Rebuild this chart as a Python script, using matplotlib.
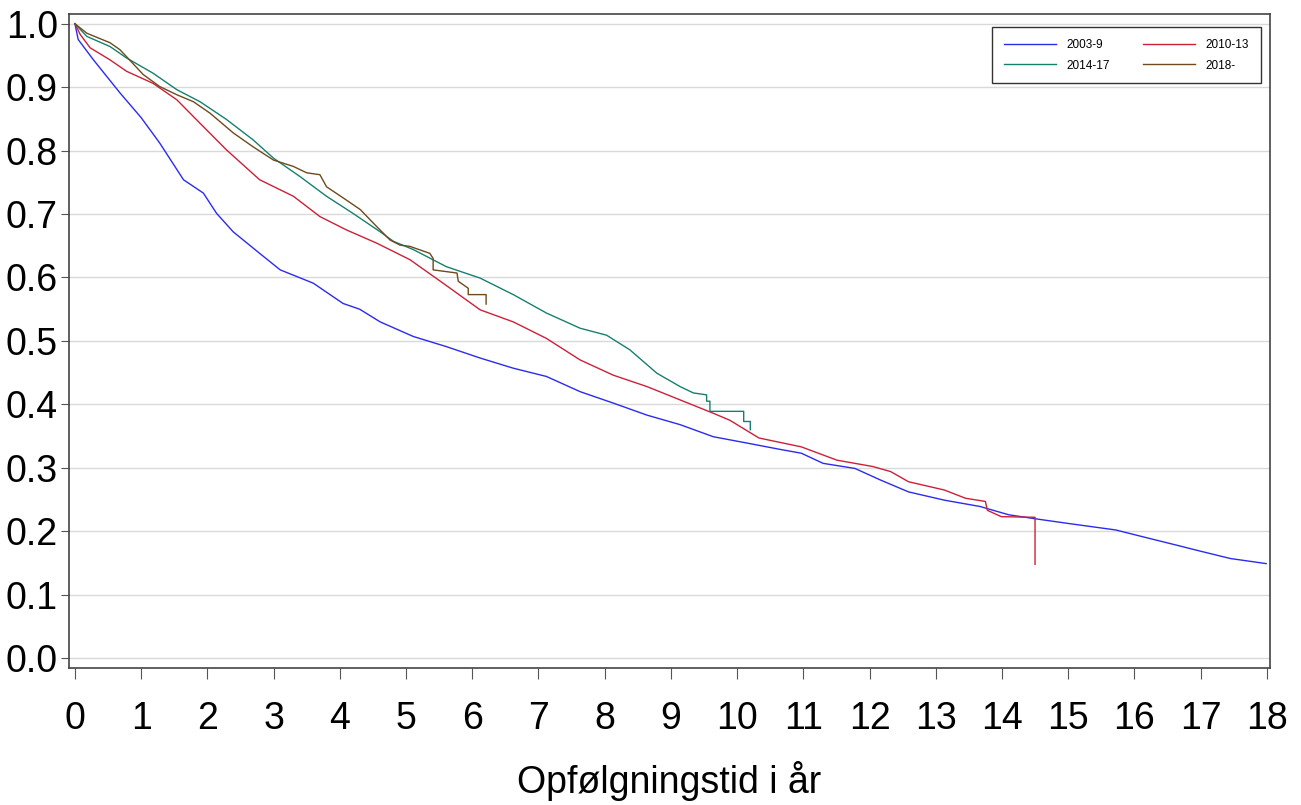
import matplotlib
matplotlib.use("Agg")
import matplotlib.pyplot as plt

plt.rcParams['font.family'] = ['Liberation Sans', 'DejaVu Sans']

# survival estimates (years, proportion)
t_0309 = [0, 0.05, 0.28, 0.68, 1.0, 1.28, 1.64, 1.94, 2.14, 2.39, 2.79, 3.10, 3.6, 4.05, 4.3,
          4.61, 5.11, 5.61, 6.12, 6.62, 7.12, 7.63, 8.13, 8.64, 9.14, 9.64, 10.15, 10.65,
          10.97, 11.30, 11.78, 12.16, 12.59, 13.13, 13.67, 14.10, 14.48, 15.02, 15.72,
          16.10, 16.64, 17.02, 17.45, 17.99]
s_0309 = [1.0, 0.975, 0.943, 0.891, 0.852, 0.812, 0.754, 0.733, 0.701, 0.672, 0.638, 0.612,
          0.591, 0.559, 0.550, 0.530, 0.507, 0.491, 0.473, 0.457, 0.444, 0.420, 0.402, 0.383,
          0.368, 0.349, 0.339, 0.329, 0.323, 0.307, 0.299, 0.281, 0.262, 0.249, 0.239, 0.226,
          0.220, 0.212, 0.202, 0.192, 0.178, 0.168, 0.157, 0.149]

t_1013 = [0, 0.08, 0.23, 0.53, 0.78, 1.18, 1.54, 1.89, 2.29, 2.79, 3.30, 3.70, 4.10, 4.56,
          5.06, 5.56, 6.12, 6.62, 7.12, 7.63, 8.13, 8.64, 9.14, 9.64, 9.89, 10.33, 10.97,
          11.51, 12.05, 12.32, 12.59, 13.13, 13.45, 13.75, 13.78, 13.99, 14.50, 14.50]
s_1013 = [1.0, 0.983, 0.962, 0.943, 0.925, 0.906, 0.880, 0.843, 0.801, 0.754, 0.728, 0.696,
          0.675, 0.654, 0.628, 0.591, 0.549, 0.530, 0.504, 0.470, 0.446, 0.428, 0.407, 0.386,
          0.375, 0.347, 0.333, 0.312, 0.302, 0.294, 0.278, 0.265, 0.252, 0.247, 0.233, 0.223,
          0.222, 0.148]

t_1417 = [0, 0.18, 0.53, 0.78, 1.18, 1.54, 1.89, 2.29, 2.69, 3.0, 3.40, 3.80, 4.20, 4.61,
          4.81, 5.11, 5.61, 6.12, 6.62, 7.12, 7.63, 8.03, 8.38, 8.79, 9.14, 9.34, 9.54, 9.54,
          9.59, 9.59, 9.79, 10.10, 10.10, 10.20, 10.20]
s_1417 = [1.0, 0.98, 0.964, 0.946, 0.922, 0.896, 0.877, 0.849, 0.817, 0.788, 0.759, 0.728,
          0.701, 0.672, 0.657, 0.644, 0.617, 0.599, 0.573, 0.544, 0.520, 0.509, 0.486, 0.449,
          0.428, 0.418, 0.415, 0.405, 0.405, 0.389, 0.389, 0.389, 0.373, 0.373, 0.360]

t_2018 = [0, 0.18, 0.53, 0.68, 0.78, 1.03, 1.28, 1.54, 1.79, 2.04, 2.39, 2.69, 3.0, 3.30,
          3.50, 3.70, 3.80, 4.10, 4.31, 4.56, 4.76, 4.91, 5.06, 5.36, 5.41, 5.41, 5.77, 5.79,
          5.94, 5.94, 6.21, 6.21]
s_2018 = [1.0, 0.985, 0.970, 0.959, 0.948, 0.920, 0.901, 0.888, 0.877, 0.859, 0.828, 0.806,
          0.785, 0.775, 0.765, 0.762, 0.743, 0.722, 0.707, 0.680, 0.659, 0.651, 0.649, 0.638,
          0.630, 0.612, 0.607, 0.594, 0.583, 0.573, 0.573, 0.558]

labels = ['2003-9', '2010-13', '2014-17', '2018-']
colors = ['#2b2bf0', '#cc2038', '#16806f', '#6e4a1c']

fig = plt.figure(figsize=(13.01, 8.05), dpi=100)
ax = fig.add_axes([0.053, 0.170, 0.923, 0.813])

lines = []
for t, s, lab, c in zip([t_0309, t_1013, t_1417, t_2018],
                        [s_0309, s_1013, s_1417, s_2018], labels, colors):
    ln, = ax.plot(t, s, color=c, lw=1.0, label=lab)
    lines.append(ln)

ax.set_xlim(-0.09, 18.045)
ax.set_ylim(-0.0158, 1.0158)
ax.set_xticks(range(0, 19))
ax.set_yticks([i / 10 for i in range(11)])
ax.set_yticklabels(['%.1f' % (i / 10) for i in range(11)])
ax.yaxis.grid(True, color='#d9d9d9', lw=1)
ax.set_axisbelow(True)
ax.tick_params(axis='both', labelsize=27, direction='out', color='#555555')
ax.tick_params(axis='x', length=8, pad=16)
ax.tick_params(axis='y', length=6, pad=2)
for sp in ax.spines.values():
    sp.set_color('#444444')
    sp.set_linewidth(1.2)
ax.set_xlabel('Opfølgningstid i år', fontsize=27, labelpad=17)

# matplotlib fills legend column-first, so reorder to get rows 2003-9/2010-13, 2014-17/2018-
order = [0, 2, 1, 3]
leg = ax.legend([lines[i] for i in order], [labels[i] for i in order],
                loc='upper right', ncol=2, fontsize=8.5, frameon=True, fancybox=False,
                edgecolor='black', handlelength=4.4, handletextpad=0.9, columnspacing=2.8,
                borderpad=1.0, labelspacing=0.7, bbox_to_anchor=(0.9975, 0.988))
leg.get_frame().set_linewidth(1)

fig.savefig('out.png', dpi=100)
